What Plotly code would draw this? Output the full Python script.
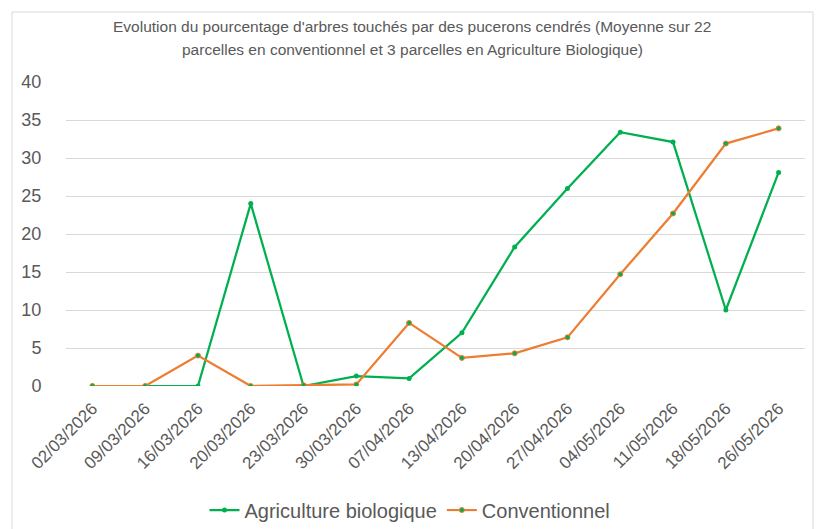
import plotly.graph_objects as go

dates = ["02/03/2026", "09/03/2026", "16/03/2026", "20/03/2026", "23/03/2026",
         "30/03/2026", "07/04/2026", "13/04/2026", "20/04/2026", "27/04/2026",
         "04/05/2026", "11/05/2026", "18/05/2026", "26/05/2026"]
bio = [0, 0, 0, 24.0, 0, 1.3, 1.0, 7.0, 18.3, 26.0, 33.4, 32.1, 10.0, 28.1]
conv = [0, 0, 4.0, 0, 0.1, 0.2, 8.3, 3.7, 4.3, 6.4, 14.7, 22.7, 31.9, 33.9]
yticks = [0, 5, 10, 15, 20, 25, 30, 35, 40]
title_lines = ["Evolution du pourcentage d'arbres touchés par des pucerons cendrés (Moyenne sur 22",
               "parcelles en conventionnel et 3 parcelles en Agriculture Biologique)"]

GREEN = "#00B050"
ORANGE = "#ED7D31"
GREY = "#595959"
NARROW = "Liberation Sans Narrow, Arial Narrow, Liberation Sans, Arial, sans-serif"

fig = go.Figure()
fig.add_trace(go.Scatter(x=dates, y=bio, name="Agriculture biologique", mode="lines+markers",
                         line=dict(color=GREEN, width=2.25),
                         marker=dict(size=5, color=GREEN)))
fig.add_trace(go.Scatter(x=dates, y=conv, name="Conventionnel", mode="lines+markers",
                         line=dict(color=ORANGE, width=2.25),
                         marker=dict(size=5, color=GREEN, line=dict(color=ORANGE, width=1))))

W, H = 820, 529
L, R, T, B = 66, 15, 82, 143
pw, ph = W - L - R, H - T - B

def px_x(p):
    return (p - L) / pw

def px_y(p):
    return (H - B - p) / ph

fig.add_shape(type="rect", xref="paper", yref="paper",
              x0=px_x(12), x1=px_x(813), y0=px_y(535), y1=px_y(12),
              line=dict(color="#D9D9D9", width=1), fillcolor="rgba(0,0,0,0)", layer="below")

for line, ypix in zip(title_lines, [27, 50]):
    fig.add_annotation(text=line, xref="paper", yref="paper", x=px_x(412), y=px_y(ypix),
                       xanchor="center", yanchor="middle", showarrow=False,
                       font=dict(family=NARROW, size=15.5, color=GREY))

fig.update_layout(
    width=W, height=H,
    margin=dict(l=L, r=R, t=T, b=B),
    paper_bgcolor="white", plot_bgcolor="white",
    xaxis=dict(type="category", range=[-0.5, 13.5], showgrid=False, showline=False, zeroline=False,
               automargin=False,
               tickangle=-45, tickfont=dict(family=NARROW, size=17, color=GREY),
               ticks="outside", ticklen=5, tickcolor="rgba(0,0,0,0)"),
    yaxis=dict(range=[0, 40], tickvals=yticks, showgrid=True, gridcolor="#D9D9D9", gridwidth=1,
               zeroline=False, showline=False, automargin=False,
               tickfont=dict(family="Liberation Sans, Arial, sans-serif", size=18, color=GREY),
               ticks="outside", ticklen=20, tickcolor="rgba(0,0,0,0)"),
    legend=dict(orientation="h", x=0.5, xanchor="center", xref="container",
                y=(H - 510) / H, yanchor="middle", yref="container",
                font=dict(family=NARROW, size=20, color=GREY),
                itemwidth=30, bgcolor="rgba(0,0,0,0)"),
    showlegend=True,
)

fig.write_html("out.html", config={"displayModeBar": False},
               post_script="document.body.style.margin='0px';")
